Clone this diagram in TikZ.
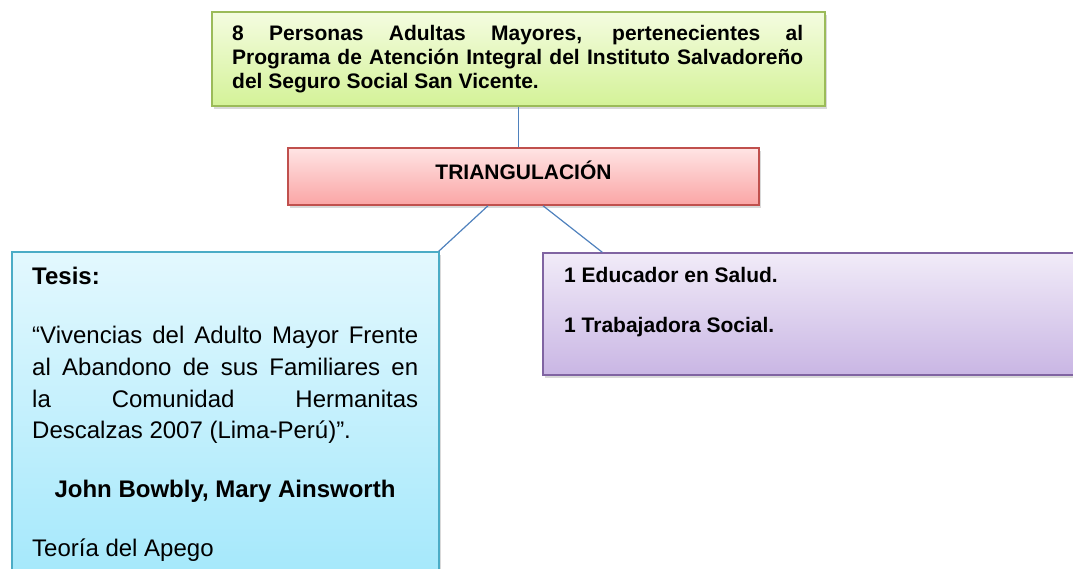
\documentclass[tikz,border=0pt]{standalone}
\usepackage{fontspec}
\setmainfont{Liberation Sans}
\usetikzlibrary{shadows}

\definecolor{lineblue}{RGB}{79,129,189}
\definecolor{greenline}{RGB}{155,187,89}
\definecolor{greentop}{RGB}{244,252,224}
\definecolor{greenbot}{RGB}{212,242,152}
\definecolor{redline}{RGB}{192,80,77}
\definecolor{redtop}{RGB}{255,228,228}
\definecolor{redbot}{RGB}{250,165,165}
\definecolor{blueline}{RGB}{75,172,198}
\definecolor{bluetop}{RGB}{227,248,254}
\definecolor{bluebot}{RGB}{160,231,251}
\definecolor{violetline}{RGB}{128,100,162}
\definecolor{violettop}{RGB}{241,235,248}
\definecolor{violetbot}{RGB}{201,182,228}

\tikzstyle{box} = [rectangle,line width=1.5pt,inner sep=0pt,
  drop shadow={opacity=0.3,shadow xshift=2pt,shadow yshift=-3pt}]
\tikzstyle{greenbox} = [box,draw=greenline,top color=greentop,bottom color=greenbot]
\tikzstyle{redbox} = [box,draw=redline,top color=redtop,bottom color=redbot]
\tikzstyle{bluebox} = [box,draw=blueline,top color=bluetop,bottom color=bluebot]
\tikzstyle{violetbox} = [box,draw=violetline,top color=violettop,bottom color=violetbot]
\tikzstyle{link} = [draw,lineblue,line width=1.2pt]
\tikzstyle{boldtext} = [anchor=base west,inner sep=0pt,font=\fontsize{21}{25}\selectfont\bfseries]
\tikzstyle{bodytext} = [anchor=base west,inner sep=0pt,font=\fontsize{24}{32}\selectfont]

\begin{document}
\begin{tikzpicture}[x=1pt,y=-1pt]
     \useasboundingbox (0,0) rectangle (1073,569);
     % First we draw the boxes
     \node[greenbox,minimum width=613pt,minimum height=94pt] (adultos) at (518.5,59) {};
     \node[redbox,minimum width=471pt,minimum height=57pt,text height=15pt,text depth=8pt,
       font=\fontsize{21}{25}\selectfont\bfseries] (triang) at (523.5,176.5) {TRIANGULACIÓN};
     \node[bluebox,minimum width=427pt,minimum height=348pt] (tesis) at (225.5,426) {};
     \node[violetbox,minimum width=547pt,minimum height=122pt] (personal) at (816.5,314) {};

     % Texts of the boxes
     \foreach \y/\txt in {41/{8 Personas Adultas Mayores, pertenecientes al},
       65/{Programa de Atención Integral del Instituto Salvadoreño}}
     \node[boldtext] (adultos\y) at (232,\y) {\makebox[571pt][s]{\txt}};
     \node[boldtext] (adultos89) at (232,89) {del Seguro Social San Vicente.};

     \node[bodytext,font=\fontsize{24}{32}\selectfont\bfseries] (tesis284) at (32,284) {Tesis:};
     \foreach \y/\txt in {343/{“Vivencias del Adulto Mayor Frente},
       375/{al Abandono de sus Familiares en}, 407/{la Comunidad Hermanitas}}
     \node[bodytext] (tesis\y) at (32,\y) {\makebox[386pt][s]{\txt}};
     \node[bodytext] (tesis438) at (32,438) {Descalzas 2007 (Lima-Perú)”.};
     \node[bodytext,anchor=base,font=\fontsize{24}{32}\selectfont\bfseries] (tesis497) at (225,497)
       {John Bowbly, Mary Ainsworth};
     \node[bodytext] (tesis556) at (32,556) {Teoría del Apego};

     \foreach \y/\txt in {283/{1 Educador en Salud.}, 332/{1 Trabajadora Social.}}
     \node[boldtext] (personal\y) at (564,\y) {\txt};

     % Connect the boxes
     \path[link] (adultos.south) -- (adultos.south |- triang.north);
     \path[link] ([xshift=-35.5pt]triang.south) -- ([xshift=-1pt]tesis.north east);
     \path[link] ([xshift=19.5pt]triang.south) -- ([xshift=60pt]personal.north west);
\end{tikzpicture}
\end{document}
